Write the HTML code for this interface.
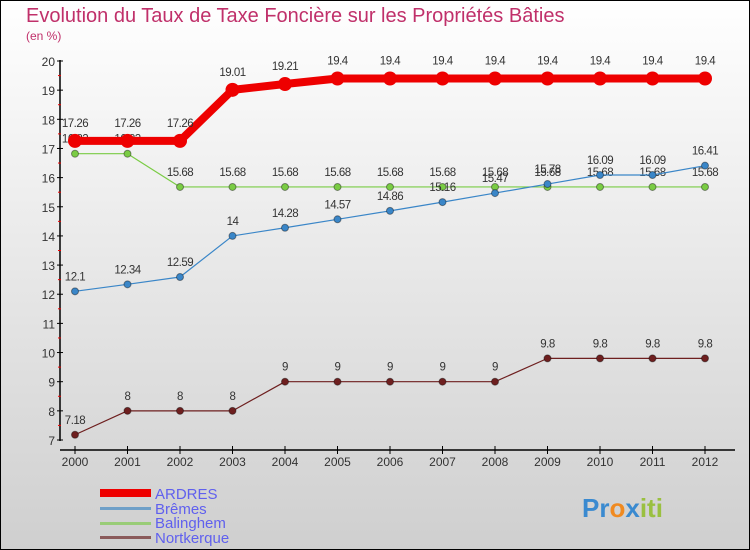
<!DOCTYPE html>
<html><head><meta charset="utf-8"><style>
body{margin:0;width:750px;height:550px;overflow:hidden;font-family:"Liberation Sans",sans-serif}
svg{display:block}
</style></head><body>
<svg id="chart" width="750" height="550">
<defs><linearGradient id="bg" x1="0" y1="0" x2="0" y2="1"><stop offset="0" stop-color="#ffffff"/><stop offset="1" stop-color="#cfcfcf"/></linearGradient></defs>
<rect x="0.5" y="0.5" width="749" height="549" fill="url(#bg)" stroke="#000"/>
<text x="26" y="22" font-size="20" fill="#c0306a">Evolution du Taux de Taxe Foncière sur les Propriétés Bâties</text>
<text x="26" y="40" font-size="12" fill="#c0306a">(en %)</text>
<g id="plot"></g>
<g>
<rect x="100" y="489" width="51" height="8" fill="#e00"/>
<text x="155" y="499" font-size="15" fill="#6060ee">ARDRES</text>
<rect x="100" y="507" width="51" height="3" fill="#6fa0c8"/>
<text x="155" y="514" font-size="15" fill="#6060ee">Brêmes</text>
<rect x="100" y="522" width="51" height="3" fill="#99cc77"/>
<text x="155" y="528" font-size="15" fill="#6060ee">Balinghem</text>
<rect x="100" y="536" width="51" height="3" fill="#8a5a5a"/>
<text x="155" y="543" font-size="15" fill="#6060ee">Nortkerque</text>
</g>
<g font-size="26" font-weight="bold">
<text x="582" y="517"><tspan fill="#3a8ad0">Pr</tspan><tspan fill="#f08a20">o</tspan><tspan fill="#3a8ad0">x</tspan><tspan fill="#9ac040">iti</tspan></text>
</g>
</svg>
<script>
const years=[2000,2001,2002,2003,2004,2005,2006,2007,2008,2009,2010,2011,2012];
const ardres=[17.26,17.26,17.26,19.01,19.21,19.4,19.4,19.4,19.4,19.4,19.4,19.4,19.4];
const bremes=[12.1,12.34,12.59,14,14.28,14.57,14.86,15.16,15.47,15.78,16.09,16.09,16.41];
const balinghem=[16.82,16.82,15.68,15.68,15.68,15.68,15.68,15.68,15.68,15.68,15.68,15.68,15.68];
const nortkerque=[7.18,8,8,8,9,9,9,9,9,9.8,9.8,9.8,9.8];
const yTicks=[7,8,9,10,11,12,13,14,15,16,17,18,19,20];
const NS='http://www.w3.org/2000/svg';
const g=document.getElementById('plot');
const x=i=>75+i*52.5;
const y=v=>440-(v-7)*(379/13);
function mk(t,a){const e=document.createElementNS(NS,t);for(const k in a)e.setAttribute(k,a[k]);g.appendChild(e);return e;}
let ax=mk('line',{x1:60,y1:60,x2:60,y2:441,stroke:'#000','stroke-width':1.5});


let bx=mk('line',{x1:60,y1:450,x2:735,y2:450,stroke:'#000','stroke-width':1.5});


yTicks.forEach(v=>{
 mk('line',{x1:57,y1:y(v),x2:63,y2:y(v),stroke:'#000'});
 if(v<20)mk('line',{x1:58,y1:y(v+0.5),x2:61,y2:y(v+0.5),stroke:'#e00'});
 const t=mk('text',{x:55,y:y(v)+5,'font-size':12,'text-anchor':'end',fill:'#333'});
 t.textContent=v;
 
 
});
years.forEach((yr,i)=>{
 mk('line',{x1:x(i),y1:446,x2:x(i),y2:454,stroke:'#000'});
 const t=mk('text',{x:x(i),y:466,'font-size':12,'text-anchor':'middle',fill:'#333'});
 t.textContent=yr;
 
 
});
function series(vals,name,color,w,r,labelDy){
 const p=mk('polyline',{points:vals.map((v,i)=>x(i)+','+y(v)).join(' '),fill:'none',stroke:color,'stroke-width':w,'stroke-linejoin':'round'});
 
 
 vals.forEach((v,i)=>{
  const c=mk('circle',{cx:x(i),cy:y(v),r:r,fill:color,stroke:'rgba(0,0,0,0.4)','stroke-width':r>5?0:1});
  
  
  const t=mk('text',{x:x(i),y:y(v)+labelDy,'font-size':11.5,'text-anchor':'middle',fill:'#333','letter-spacing':'-0.5'});
  t.textContent=v;
  
  
 });
}
series(nortkerque,'nortkerque','#6e1f1f',1.2,3.5,-11);
series(balinghem,'balinghem','#7acc44',1.2,3.5,-11);
series(bremes,'bremes','#3a86c8',1.2,3.5,-11);
series(ardres,'ardres','#ee0000',8,7,-14);
</script>
</body></html>
